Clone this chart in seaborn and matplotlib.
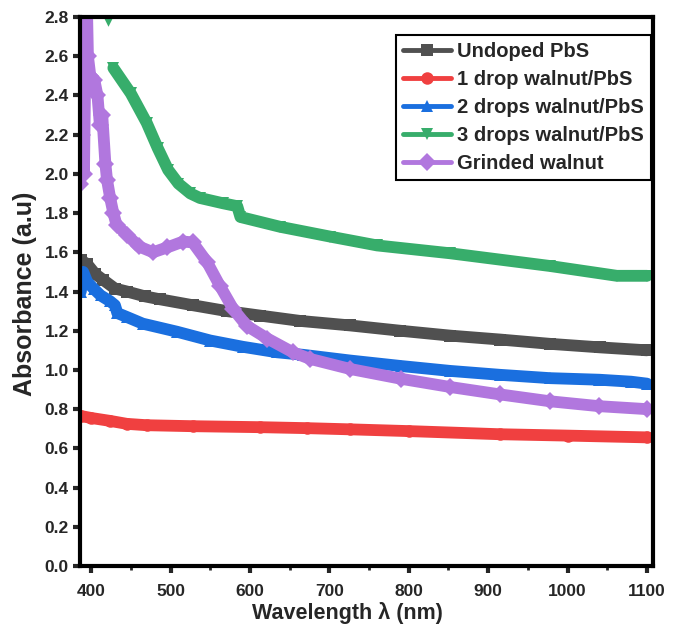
import matplotlib
matplotlib.use("Agg")
import matplotlib.pyplot as plt
from matplotlib.lines import Line2D
from matplotlib.ticker import MultipleLocator
import seaborn as sns

# ---------------- data ----------------
series_names = ["Undoped PbS", "1 drop walnut/PbS", "2 drops walnut/PbS",
                "3 drops walnut/PbS", "Grinded walnut"]

wl_undoped = [387, 395, 405, 415, 430, 445, 468, 487, 528, 571, 613, 663, 726, 789, 852, 915, 978, 1041, 1100]
ab_undoped = [1.56, 1.54, 1.49, 1.46, 1.415, 1.40, 1.375, 1.36, 1.33, 1.30, 1.277, 1.25, 1.227, 1.20, 1.175, 1.155, 1.133, 1.115, 1.10]

wl_1drop = [387, 400, 424, 445, 470, 528, 613, 672, 726, 800, 915, 1000, 1100]
ab_1drop = [0.765, 0.755, 0.74, 0.725, 0.718, 0.713, 0.708, 0.703, 0.697, 0.688, 0.672, 0.665, 0.656]

wl_2drops = [387, 390, 395, 403, 412, 424, 430, 433, 445, 465, 508, 550, 591, 634, 667, 726, 790, 852, 915, 978, 1040, 1080, 1100]
ab_2drops = [1.40, 1.50, 1.45, 1.415, 1.38, 1.35, 1.33, 1.29, 1.27, 1.236, 1.195, 1.15, 1.118, 1.09, 1.077, 1.048, 1.02, 0.995, 0.975, 0.958, 0.95, 0.94, 0.93]

# isolated points of the 3-drop curve that fall inside the frame before 428 nm
wl_3drops_early = [386, 388, 421]
ab_3drops_early = [2.45, 2.50, 2.79]
wl_3drops = [428, 450, 470, 484, 497, 510, 525, 537, 566, 584, 588, 638, 701, 760, 852, 978, 1062, 1100]
ab_3drops = [2.54, 2.41, 2.26, 2.13, 2.02, 1.95, 1.90, 1.877, 1.85, 1.835, 1.78, 1.73, 1.68, 1.635, 1.595, 1.53, 1.48, 1.48]

wl_grinded = [386, 389, 391, 394, 396, 399, 404, 408, 411, 414, 418, 420, 424, 428, 432, 445, 460, 478, 496, 516, 528, 546, 562, 579, 596, 622, 654, 676, 726, 790, 852, 915, 978, 1040, 1100]
ab_grinded = [1.95, 2.20, 2.00, 3.00, 2.60, 2.50, 2.48, 2.40, 2.25, 2.30, 2.05, 1.97, 1.877, 1.80, 1.74, 1.69, 1.63, 1.60, 1.625, 1.655, 1.65, 1.55, 1.43, 1.31, 1.225, 1.16, 1.09, 1.056, 1.005, 0.955, 0.913, 0.875, 0.84, 0.815, 0.80]

x_ticks = [400, 500, 600, 700, 800, 900, 1000, 1100]
y_ticks = [0.0, 0.2, 0.4, 0.6, 0.8, 1.0, 1.2, 1.4, 1.6, 1.8, 2.0, 2.2, 2.4, 2.6, 2.8]

# ---------------- style ----------------
sns.set_style("ticks")
plt.rcParams["font.family"] = ["Liberation Sans", "DejaVu Sans"]
plt.rcParams["font.weight"] = "bold"

colors = ["#505050", "#F04040", "#1A6FDF", "#37AD6B", "#B177DE"]
markers = ["s", "o", "^", "v", "D"]
wls = [wl_undoped, wl_1drop, wl_2drops, wl_3drops, wl_grinded]
abs_ = [ab_undoped, ab_1drop, ab_2drops, ab_3drops, ab_grinded]

fig = plt.figure(figsize=(6.82, 6.28), dpi=100)
ax = fig.add_axes([80 / 682, 1 - 566 / 628, (653 - 80) / 682, (566 - 17) / 628])

LW = 8.5
for name, c, m, x, y in zip(series_names, colors, markers, wls, abs_):
    sns.lineplot(x=x, y=y, ax=ax, color=c, lw=LW, marker=m, markersize=9,
                 markeredgewidth=0, sort=False, legend=False, estimator=None)

sns.scatterplot(x=wl_3drops_early, y=ab_3drops_early, ax=ax, color=colors[3],
                marker="v", s=110, linewidth=0, legend=False)

ax.set_xlim(386, 1107.5)
ax.set_ylim(0, 2.8)
ax.set_xticks(x_ticks)
ax.set_yticks(y_ticks)
ax.set_yticklabels([f"{v:.1f}" for v in y_ticks])
ax.xaxis.set_minor_locator(MultipleLocator(50))

for s in ax.spines.values():
    s.set_visible(True)
    s.set_linewidth(3)
    s.set_color("black")

ax.tick_params(axis="y", which="major", direction="out", length=5, width=3,
               labelsize=12.5, pad=3)
ax.tick_params(axis="x", which="major", direction="out", length=5, width=3,
               labelsize=12.5, pad=8)
ax.tick_params(axis="x", which="minor", direction="out", length=3, width=2)
for lab in ax.get_xticklabels() + ax.get_yticklabels():
    lab.set_fontweight("bold")

ax.set_xlabel("Wavelength λ (nm)", fontsize=15.5, fontweight="bold")
ax.set_ylabel("Absorbance (a.u)", fontsize=18, fontweight="bold")
ax.xaxis.set_label_coords(0.466, -0.065)
ax.yaxis.set_label_coords(-0.075, 0.495)

handles = [Line2D([0], [0], color=c, lw=3.5, marker=m, markersize=9, markeredgewidth=0)
           for c, m in zip(colors, markers)]
leg = ax.legend(handles, series_names, loc="upper right",
                bbox_to_anchor=((651 - 80) / 573, (566 - 35) / 549),
                frameon=True, fancybox=False, edgecolor="black", framealpha=1,
                prop={"weight": "bold", "size": 14.5}, handlelength=2.4,
                handletextpad=0.3, borderpad=0.35, labelspacing=0.45, borderaxespad=0)
leg.get_frame().set_linewidth(1.5)

fig.savefig("out.png", dpi=100)
